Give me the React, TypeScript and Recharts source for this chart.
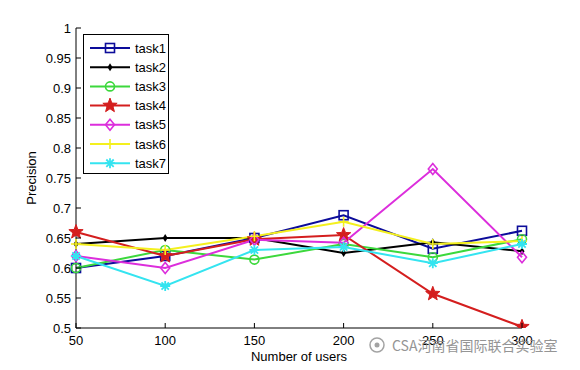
import { LineChart, Line, XAxis, YAxis, Legend } from "recharts";

const users = [50, 100, 150, 200, 250, 300];
const task1 = [0.6, 0.62, 0.65, 0.688, 0.632, 0.662];
const task2 = [0.64, 0.65, 0.65, 0.625, 0.643, 0.628];
const task3 = [0.6, 0.63, 0.614, 0.64, 0.618, 0.648];
const task4 = [0.66, 0.62, 0.648, 0.655, 0.557, 0.502];
const task5 = [0.62, 0.6, 0.647, 0.642, 0.765, 0.618];
const task6 = [0.64, 0.63, 0.653, 0.677, 0.64, 0.645];
const task7 = [0.62, 0.57, 0.63, 0.635, 0.608, 0.64];

const yTicks = [0.5, 0.55, 0.6, 0.65, 0.7, 0.75, 0.8, 0.85, 0.9, 0.95, 1];
const xTicks = [50, 100, 150, 200, 250, 300];

const FONT = '"Liberation Sans", Arial, sans-serif';

type Shape = "square" | "dot" | "circle" | "star" | "diamond" | "plus" | "asterisk";

const series: { key: string; color: string; shape: Shape; values: number[] }[] = [
  { key: "task1", color: "#0c0c9a", shape: "square", values: task1 },
  { key: "task2", color: "#000000", shape: "dot", values: task2 },
  { key: "task3", color: "#3cd83c", shape: "circle", values: task3 },
  { key: "task4", color: "#d41e1e", shape: "star", values: task4 },
  { key: "task5", color: "#dc2edc", shape: "diamond", values: task5 },
  { key: "task6", color: "#f4f01e", shape: "plus", values: task6 },
  { key: "task7", color: "#34e4f0", shape: "asterisk", values: task7 },
];

const data = users.map((u, i) => {
  const row: Record<string, number> = { users: u };
  series.forEach((s) => (row[s.key] = s.values[i]));
  return row;
});

function starPath(cx: number, cy: number, r: number) {
  const pts: string[] = [];
  for (let i = 0; i < 10; i++) {
    const a = -Math.PI / 2 + (i * Math.PI) / 5;
    const rr = i % 2 === 0 ? r : r * 0.42;
    pts.push(`${cx + rr * Math.cos(a)},${cy + rr * Math.sin(a)}`);
  }
  return "M" + pts.join("L") + "Z";
}

function Marker({ shape, color, cx, cy }: { shape: Shape; color: string; cx: number; cy: number }) {
  switch (shape) {
    case "square":
      return <rect x={cx - 4.5} y={cy - 4.5} width={9} height={9} fill="none" stroke={color} strokeWidth={1.6} />;
    case "dot":
      return <path d={`M${cx},${cy - 4}L${cx + 2.5},${cy}L${cx},${cy + 4}L${cx - 2.5},${cy}Z`} fill={color} />;
    case "circle":
      return <circle cx={cx} cy={cy} r={4.5} fill="none" stroke={color} strokeWidth={1.6} />;
    case "star":
      return <path d={starPath(cx, cy, 7.5)} fill={color} stroke={color} strokeWidth={1} />;
    case "diamond":
      return (
        <path
          d={`M${cx},${cy - 5.5}L${cx + 4.5},${cy}L${cx},${cy + 5.5}L${cx - 4.5},${cy}Z`}
          fill="none"
          stroke={color}
          strokeWidth={1.6}
        />
      );
    case "plus":
      return (
        <path d={`M${cx - 5},${cy}L${cx + 5},${cy}M${cx},${cy - 5}L${cx},${cy + 5}`} stroke={color} strokeWidth={1.6} />
      );
    case "asterisk":
      return (
        <path
          d={`M${cx - 5},${cy}L${cx + 5},${cy}M${cx},${cy - 5}L${cx},${cy + 5}M${cx - 3.7},${cy - 3.7}L${cx + 3.7},${cy + 3.7}M${cx - 3.7},${cy + 3.7}L${cx + 3.7},${cy - 3.7}`}
          stroke={color}
          strokeWidth={1.8}
        />
      );
  }
}

const LeftTick = ({ x, y, payload }: any) => (
  <g>
    <line x1={x} y1={y} x2={x + 5} y2={y} stroke="#000" />
    <text x={x - 5} y={y} dy={4.5} textAnchor="end" fontSize={13} fontFamily={FONT} fill="#000">
      {String(payload.value)}
    </text>
  </g>
);

const RightTick = ({ x, y }: any) => <line x1={x} y1={y} x2={x - 5} y2={y} stroke="#000" />;

const BottomTick = ({ x, y, payload }: any) => (
  <g>
    <line x1={x} y1={y} x2={x} y2={y - 5} stroke="#000" />
    <text x={x} y={y} dy={16.5} textAnchor="middle" fontSize={13} fontFamily={FONT} fill="#000">
      {String(payload.value)}
    </text>
  </g>
);

const TopTick = ({ x, y }: any) => <line x1={x} y1={y} x2={x} y2={y + 5} stroke="#000" />;

const LegendBox = () => (
  <svg width={86} height={140} style={{ display: "block" }}>
    <rect x={0.5} y={0.5} width={85} height={139} fill="#fff" stroke="#000" />
    {series.map((s, i) => {
      const cy = 14 + i * 19.2;
      return (
        <g key={s.key}>
          <line x1={7} x2={47} y1={cy} y2={cy} stroke={s.color} strokeWidth={2} />
          <Marker shape={s.shape} color={s.color} cx={27} cy={cy} />
          <text x={52} y={cy + 4.5} fontSize={13} fontFamily={FONT} fill="#000">
            {s.key}
          </text>
        </g>
      );
    })}
  </svg>
);

export default function App() {
  return (
    <div style={{ position: "absolute", left: 0, top: 0, width: 580, height: 370, background: "#fff" }}>
      <LineChart width={580} height={370} data={data} margin={{ top: 28, right: 58, bottom: 0, left: 0 }}>
        <XAxis
          dataKey="users"
          type="number"
          domain={[50, 300]}
          ticks={xTicks}
          height={42}
          tickSize={0}
          tickMargin={0}
          tick={<BottomTick />}
          axisLine={{ stroke: "#000" }}
          label={{ value: "Number of users", position: "insideBottom", offset: 9, fontSize: 13, fontFamily: FONT, fill: "#000" }}
        />
        <XAxis
          xAxisId="top"
          orientation="top"
          type="number"
          domain={[50, 300]}
          ticks={xTicks}
          height={0}
          tickSize={0}
          tickMargin={0}
          tick={<TopTick />}
          axisLine={{ stroke: "#000" }}
        />
        <YAxis
          type="number"
          domain={[0.5, 1]}
          ticks={yTicks}
          width={76}
          tickSize={0}
          tickMargin={0}
          tick={<LeftTick />}
          axisLine={{ stroke: "#000" }}
          allowDataOverflow
          label={{
            value: "Precision",
            angle: -90,
            position: "insideLeft",
            offset: 31,
            style: { textAnchor: "middle" },
            fontSize: 13,
            fontFamily: FONT,
            fill: "#000",
          }}
        />
        <YAxis
          yAxisId="right"
          orientation="right"
          type="number"
          domain={[0.5, 1]}
          ticks={yTicks}
          width={0}
          tickSize={0}
          tickMargin={0}
          tick={<RightTick />}
          axisLine={{ stroke: "#000" }}
        />
        <Legend
          layout="vertical"
          align="center"
          verticalAlign="middle"
          content={() => <LegendBox />}
          wrapperStyle={{ left: 83, top: 34, width: 86, height: 140 }}
        />
        {series.map((s) => (
          <Line
            key={s.key}
            type="linear"
            dataKey={s.key}
            stroke={s.color}
            strokeWidth={2}
            isAnimationActive={false}
            activeDot={false}
            dot={(p: any) => (
              <g key={`${s.key}-${p.index}`}>
                <Marker shape={s.shape} color={s.color} cx={p.cx} cy={p.cy} />
              </g>
            )}
          />
        ))}
      </LineChart>
      <div
        style={{
          position: "absolute",
          left: 368,
          top: 335,
          display: "flex",
          alignItems: "center",
          gap: 6,
          color: "#8a8a8a",
          fontSize: 14,
          fontFamily: '"Noto Sans CJK SC", sans-serif',
          opacity: 0.9,
        }}
      >
        <svg width={18} height={18}>
          <circle cx={9} cy={9} r={7} fill="none" stroke="#9a9a9a" strokeWidth={1.5} />
          <circle cx={9} cy={9} r={2.5} fill="#9a9a9a" />
        </svg>
        <span>CSA河南省国际联合实验室</span>
      </div>
    </div>
  );
}
